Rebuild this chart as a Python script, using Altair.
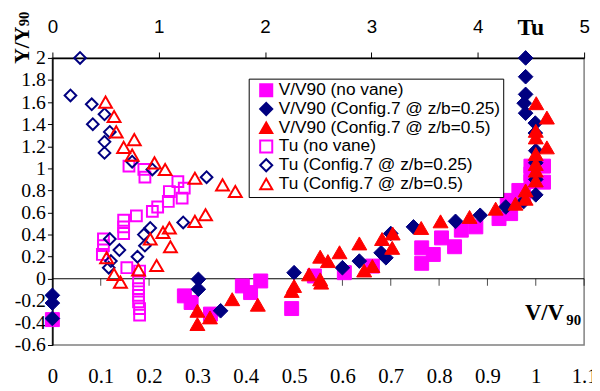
import altair as alt
import pandas as pd

SERIES = [
    "V/V90 (no vane)",
    "V/V90 (Config.7 @ z/b=0.25)",
    "V/V90 (Config.7 @ z/b=0.5)",
    "Tu (no vane)",
    "Tu (Config.7 @ z/b=0.25)",
    "Tu (Config.7 @ z/b=0.5)",
]
COLORS = ["#FF00FF", "#000080", "#FF0000", "#FF00FF", "#000080", "#FF0000"]
FILLS = ["#FF00FF", "#000080", "#FF0000", "transparent", "transparent", "transparent"]
SHAPES = ["square", "diamond", "triangle-up", "square", "diamond", "triangle-up"]
SIZES = [200, 220, 230, 120, 140, 170]
STROKES = [1, 1, 1, 2, 2, 2]

Y_TICKS = [-0.6, -0.4, -0.2, 0, 0.2, 0.4, 0.6, 0.8, 1, 1.2, 1.4, 1.6, 1.8, 2]
V_TICKS = [0, 0.1, 0.2, 0.3, 0.4, 0.5, 0.6, 0.7, 0.8, 0.9, 1.0, 1.1]
TU_TICKS = [0, 1, 2, 3, 4, 5]
ZERO_TICKS = [0.1, 0.2, 0.3, 0.4, 0.5, 0.6, 0.7, 0.8, 0.9, 1.0, 1.1]

# V/V90 (no vane)
V_NV_X = [0, 0.273, 0.287, 0.327, 0.393, 0.41, 0.431, 0.495, 0.542, 0.604, 0.662,
          0.764, 0.764, 0.788, 0.805, 0.832, 0.846, 0.876, 0.924, 0.948, 0.941,
          0.965, 0.975, 0.99, 1.016, 0.99, 0.99, 1.016]
V_NV_Y = [-0.37, -0.155, -0.215, -0.32, -0.065, -0.125, -0.02, -0.27, 0.025, 0.055, 0.115,
          0.14, 0.28, 0.22, 0.37, 0.29, 0.44, 0.47, 0.545, 0.59, 0.71,
          0.80, 0.76, 0.88, 0.875, 0.95, 1.02, 1.02]
# V/V90 (Config.7 @ z/b=0.25)
V_25_X = [0, 0, 0, 0.302, 0.302, 0.348, 0.50, 0.60, 0.635, 0.68, 0.69, 0.70, 0.747,
          0.834, 0.885, 0.938, 0.975, 1.0, 1.0, 1.0, 1.0, 0.999, 0.999, 0.979,
          0.976, 0.979, 0.979, 0.979]
V_25_Y = [-0.15, -0.22, -0.36, -0.005, -0.095, -0.29, 0.055, 0.10, 0.16, 0.235, 0.19,
          0.41, 0.47, 0.52, 0.575, 0.65, 0.70, 0.76, 0.90, 1.05, 1.16, 1.32, 1.41,
          1.50, 1.59, 1.67, 1.83, 2.0]
# V/V90 (Config.7 @ z/b=0.5)
V_50_X = [0.30, 0.30, 0.326, 0.372, 0.425, 0.495, 0.50, 0.531, 0.554, 0.554, 0.57,
          0.556, 0.594, 0.635, 0.645, 0.662, 0.682, 0.704, 0.703, 0.763, 0.803,
          0.863, 0.917, 0.958, 0.979, 0.979, 1.0, 1.0, 1.0, 1.0, 1.023, 1.0, 1.0,
          1.023, 1.001]
V_50_Y = [-0.29, -0.41, -0.35, -0.185, -0.235, -0.11, -0.065, 0.04, 0.20, -0.005, 0.16,
          -0.035, 0.24, 0.32, 0.075, 0.115, 0.36, 0.41, 0.28, 0.46, 0.52,
          0.56, 0.635, 0.68, 0.725, 0.80, 0.89, 0.98, 1.04, 1.13, 1.19, 1.28, 1.34,
          1.46, 1.59]
# Tu (no vane)
TU_NV_X = [0.72, 0.86, 0.87, 1.18, 1.24, 1.10, 1.22, 1.09, 0.99, 0.94, 0.79, 0.67,
           0.67, 0.67, 0.48, 0.48, 0.47, 0.70, 0.82, 0.81, 0.81, 0.81, 0.81, 0.82, 0.82]
TU_NV_Y = [1.02, 0.99, 0.92, 0.88, 0.82, 0.79, 0.73, 0.70, 0.65, 0.61, 0.57, 0.53,
           0.47, 0.41, 0.36, 0.30, 0.22, 0.10, 0.07, -0.02, -0.09, -0.15, -0.21, -0.27, -0.33]
# Tu (Config.7 @ z/b=0.25)
TU_25_X = [0.26, 0.17, 0.37, 0.49, 0.38, 0.54, 0.49, 0.49, 0.75, 0.94, 1.45, 1.23,
           0.92, 0.86, 0.87, 0.80, 0.54, 0.63, 0.55, 0.53]
TU_25_Y = [2.0, 1.66, 1.58, 1.49, 1.40, 1.33, 1.24, 1.14, 1.06, 0.99, 0.92, 0.51,
           0.46, 0.40, 0.30, 0.20, 0.36, 0.26, 0.16, 0.10]
# Tu (Config.7 @ z/b=0.5)
TU_50_X = [0.50, 0.58, 0.60, 0.77, 0.67, 0.75, 0.96, 1.06, 1.34, 1.60, 1.72, 1.44,
           1.34, 1.10, 1.04, 0.92, 1.11, 0.98, 0.81, 0.51, 0.58, 0.64]
TU_50_Y = [1.60, 1.47, 1.33, 1.26, 1.19, 1.12, 1.05, 0.99, 0.91, 0.85, 0.79, 0.58,
           0.52, 0.46, 0.42, 0.36, 0.29, 0.12, 0.08, 0.19, 0.04, -0.03]

DATA = [
    (V_NV_X, V_NV_Y), (V_25_X, V_25_Y), (V_50_X, V_50_Y),
    (TU_NV_X, TU_NV_Y), (TU_25_X, TU_25_Y), (TU_50_X, TU_50_Y),
]

yscale = alt.Scale(domain=[-0.6, 2], nice=False, zero=False)
yaxis = alt.Axis(
    values=Y_TICKS, grid=False, title=None,
    labelExpr="datum.value < 0 ? '-' + format(-datum.value, '.1~f') : format(datum.value, '.1~f')",
    labelFont="Liberation Serif", labelFontSize=20, labelColor="black",
    tickSize=5, tickColor="black", domainColor="black", domainWidth=1.5,
    labelPadding=2,
)
vscale = alt.Scale(domain=[0, 1.1], nice=False, zero=False)
tuscale = alt.Scale(domain=[0, 5], nice=False, zero=False)
vaxis = alt.Axis(
    orient="bottom", values=V_TICKS, format=".1~f", grid=False, title=None,
    labelFont="Liberation Serif", labelFontSize=21, labelColor="black",
    domain=False, ticks=False, labelPadding=38, labelBaseline="alphabetic",
    labelFlush=False, labelOverlap=False)
tuaxis = alt.Axis(
    orient="top", values=TU_TICKS, format="d", grid=False, title=None,
    labelFont="Liberation Sans", labelFontSize=19, labelColor="black",
    tickSize=6, tickColor="black", domainColor="black", domainWidth=1.5,
    labelPadding=20, labelBaseline="alphabetic", labelFlush=False)

legend = alt.Legend(
    orient="none", legendX=199, legendY=21, title=None,
    labelFont="Liberation Sans", labelFontSize=17.5, labelColor="black", labelLimit=400,
    symbolSize=150, symbolStrokeWidth=2, padding=3, rowPadding=-2.2,
    strokeColor="black", fillColor="white", symbolOffset=6, labelOffset=4,
)
shape_enc = alt.Shape("series:N", scale=alt.Scale(domain=SERIES, range=SHAPES), legend=legend)
stroke_enc = alt.Stroke("series:N", scale=alt.Scale(domain=SERIES, range=COLORS), legend=legend)
fill_enc = alt.Fill("series:N", scale=alt.Scale(domain=SERIES, range=FILLS), legend=legend)


def series_layer(i, col, scale, axis):
    xs, ys = DATA[i]
    df = pd.DataFrame({col: xs, "y": ys, "series": [SERIES[i]] * len(xs)})
    return alt.Chart(df).mark_point(opacity=1, size=SIZES[i], strokeWidth=STROKES[i]).encode(
        x=alt.X(f"{col}:Q", scale=scale, axis=axis),
        y=alt.Y("y:Q", scale=yscale, axis=yaxis),
        shape=shape_enc, stroke=stroke_enc, fill=fill_enc,
    )


zero_rule = alt.Chart(pd.DataFrame({"y": [0]})).mark_rule(color="black", strokeWidth=1).encode(
    y=alt.Y("y:Q", scale=yscale, axis=yaxis)
)
zero_ticks = alt.Chart(pd.DataFrame({"v": ZERO_TICKS, "y": [0] * len(ZERO_TICKS)})).mark_tick(
    orient="vertical", size=7, thickness=1, color="black", yOffset=3.5
).encode(
    x=alt.X("v:Q", scale=vscale, axis=vaxis),
    y=alt.Y("y:Q", scale=yscale, axis=yaxis),
)

v_layer = alt.layer(
    zero_rule, zero_ticks,
    series_layer(0, "v", vscale, vaxis),
    series_layer(1, "v", vscale, vaxis),
    series_layer(2, "v", vscale, vaxis),
)
tu_layer = alt.layer(
    series_layer(3, "tu", tuscale, tuaxis),
    series_layer(4, "tu", tuscale, tuaxis),
    series_layer(5, "tu", tuscale, tuaxis),
)


def label(txt, x, y, size, angle=0, align="left", font="Liberation Serif"):
    return alt.Chart(pd.DataFrame({"t": [txt]})).mark_text(
        text=txt, font=font, fontSize=size, fontWeight="bold", color="black",
        align=align, baseline="alphabetic", angle=angle,
    ).encode(x=alt.value(x), y=alt.value(y))


titles = [
    label("Tu", 485, -23, 24, align="center"),
    label("V/V", 479, 266, 23),
    label("90", 521, 271, 15),
    label("Y/Y", -24, 6, 22, angle=270),
    label("90", -24, -32, 15, angle=270),
]

chart = alt.layer(v_layer, tu_layer, *titles).resolve_scale(x="independent").properties(
    width=539, height=291,
    padding={"left": 45, "top": 48, "right": 8, "bottom": 44},
    autosize=alt.AutoSizeParams(type="none"),
).configure_view(stroke="#808080", strokeWidth=1.5)

chart.save("out.html", embed_options={"renderer": "svg", "actions": False})
